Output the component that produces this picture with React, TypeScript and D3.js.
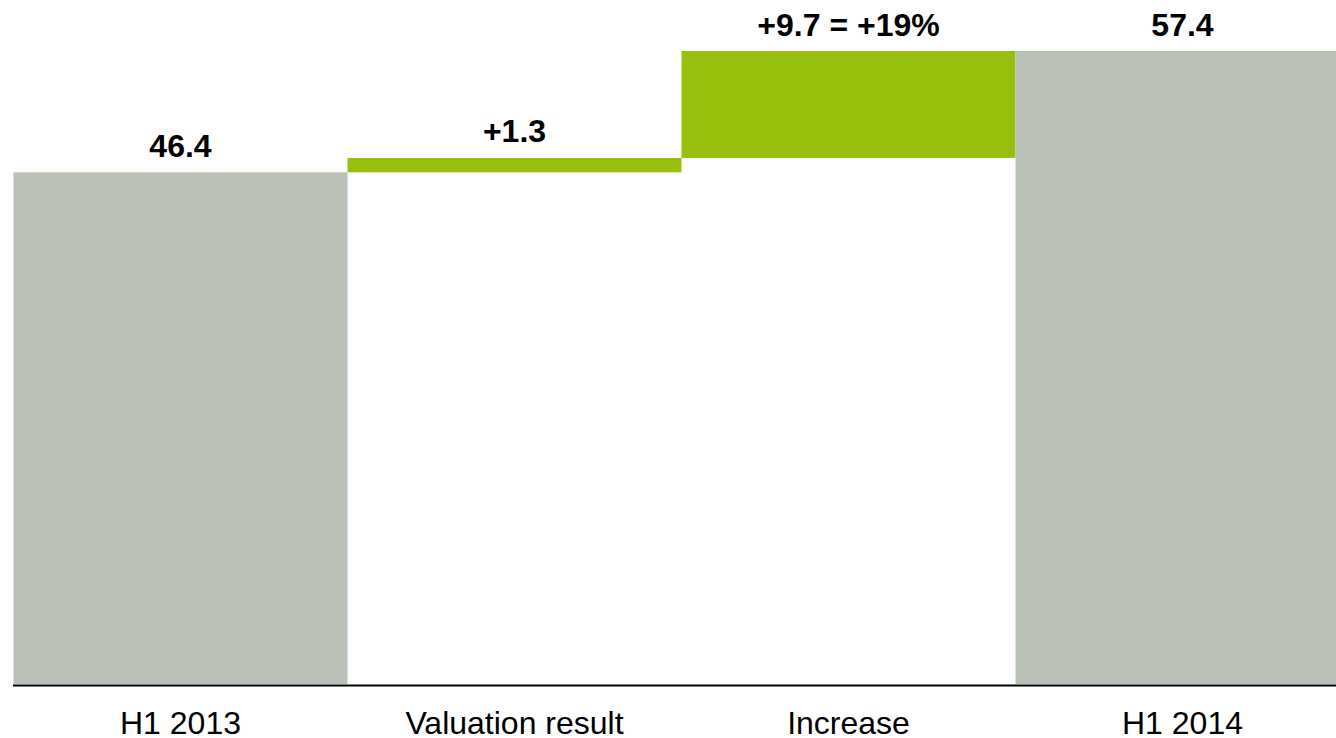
import React from "react";
import * as d3 from "d3";

const categories = ["H1 2013", "Valuation result", "Increase", "H1 2014"];
const starts = [0, 46.4, 47.7, 0];
const ends = [46.4, 47.7, 57.4, 57.4];
const valueLabels = ["46.4", "+1.3", "+9.7 = +19%", "57.4"];
const kinds = ["total", "delta", "delta", "total"];

const W = 1336;
const H = 738;

export default function App() {
  const x = d3.scaleBand<string>().domain(categories).range([13.5, 13.5 + 334 * 4]).padding(0);
  const y = d3.scaleLinear().domain([0, 57.4]).range([684, 51]);
  const color = (k: string) => (k === "total" ? "#B9C1B6" : "#97BF0D");
  return (
    <svg
      width={W}
      height={H}
      style={{ position: "absolute", left: 0, top: 0, fontFamily: "'Liberation Sans', Arial, sans-serif" }}
    >
      <g>
        {categories.map((c, i) => {
          const x0 = x(c)!;
          const top = y(Math.max(starts[i], ends[i]));
          const bot = y(Math.min(starts[i], ends[i]));
          return (
            <rect key={c} x={x0} y={top} width={x.bandwidth()} height={bot - top} fill={color(kinds[i])} />
          );
        })}
      </g>
      <line x1={13} x2={W} y1={685.5} y2={685.5} stroke="#000" strokeWidth={2} />
      {categories.map((c, i) => (
        <text
          key={"v" + c}
          x={x(c)! + x.bandwidth() / 2}
          y={y(Math.max(starts[i], ends[i])) - 15.5}
          textAnchor="middle"
          fontSize={32}
          fontWeight="bold"
          fill="#000"
        >
          {valueLabels[i]}
        </text>
      ))}
      {categories.map((c) => (
        <text key={"c" + c} x={x(c)! + x.bandwidth() / 2} y={733.5} textAnchor="middle" fontSize={32} fill="#000">
          {c}
        </text>
      ))}
    </svg>
  );
}
